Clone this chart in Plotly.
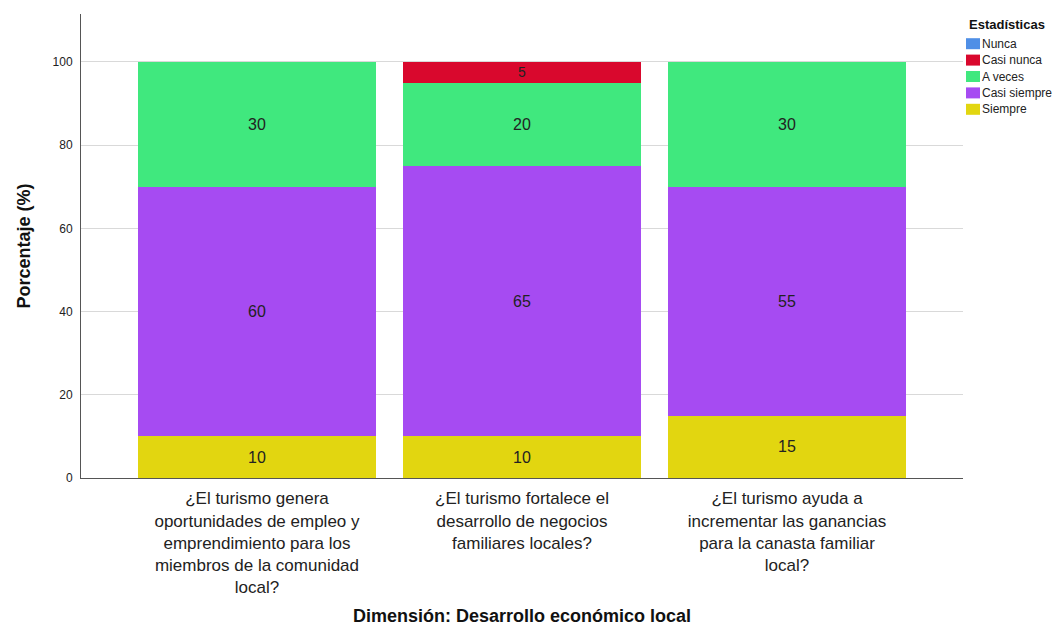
import plotly.graph_objects as go

categories = [
    "¿El turismo genera<br>oportunidades de empleo y<br>emprendimiento para los<br>miembros de la comunidad<br>local?",
    "¿El turismo fortalece el<br>desarrollo de negocios<br>familiares locales?",
    "¿El turismo ayuda a<br>incrementar las ganancias<br>para la canasta familiar<br>local?",
]
series_names = ["Siempre", "Casi siempre", "A veces", "Casi nunca", "Nunca"]
siempre = [10, 10, 15]
casi_siempre = [60, 65, 55]
a_veces = [30, 20, 30]
casi_nunca = [0, 5, 0]
nunca = [0, 0, 0]
series_values = [siempre, casi_siempre, a_veces, casi_nunca, nunca]
colors = ["#e2d610", "#a64bf2", "#40e87e", "#d9082d", "#4f8fe6"]
y_ticks = [0, 20, 40, 60, 80, 100]

W, H = 1053, 618
L, R, T, B = 73, 98, 6, 148
PW, PH = W - L - R, H - T - B


def px_x(fx):
    return (fx - L) / PW


def px_y(fy):
    return (H - B - fy) / PH


fig = go.Figure()
for name, vals, col in zip(series_names, series_values, colors):
    fig.add_trace(go.Bar(
        x=[0, 1, 2], y=vals, name=name, marker=dict(color=col, line=dict(width=0)),
        text=[str(v) if v else "" for v in vals], textposition="inside",
        insidetextanchor="middle", textangle=0,
        textfont=dict(family="Liberation Sans, Arial", size=16, color="#222222"),
        width=0.898, showlegend=False,
    ))

# custom legend (top right)
fig.add_annotation(x=px_x(959), y=px_y(16.5), xref="paper", yref="paper",
                   text="<b>Estadísticas</b>", showarrow=False, xanchor="left",
                   yanchor="middle", font=dict(size=13, color="#111111"))
for i, (name, col) in enumerate(zip(series_names[::-1], colors[::-1])):
    cy = 35.7 + 16.4 * i
    fig.add_shape(type="rect", xref="paper", yref="paper",
                  x0=px_x(958), x1=px_x(972), y0=px_y(cy + 5.5), y1=px_y(cy - 5.5),
                  fillcolor=col, line=dict(width=0))
    fig.add_annotation(x=px_x(972), y=px_y(cy), xref="paper", yref="paper",
                       text=name, showarrow=False, xanchor="left", yanchor="middle",
                       font=dict(size=12, color="#222222"))

# x axis title
fig.add_annotation(x=0.5, y=px_y(608), xref="paper", yref="paper",
                   text="<b>Dimensión: Desarrollo económico local</b>", showarrow=False,
                   xanchor="center", yanchor="middle", font=dict(size=18, color="#111111"))

fig.update_layout(
    barmode="stack",
    width=W, height=H,
    margin=dict(l=L, r=R, t=T, b=B, autoexpand=False),
    plot_bgcolor="white", paper_bgcolor="white",
    font=dict(family="Liberation Sans, Arial", color="#222222"),
    showlegend=False,
    xaxis=dict(
        tickmode="array", tickvals=[0, 1, 2], ticktext=categories,
        range=[-0.664, 2.664], showgrid=False, showline=True,
        linecolor="#555555", linewidth=1, ticks="", ticklabelstandoff=5,
        tickfont=dict(size=17, color="#222222"),
    ),
    yaxis=dict(
        range=[0, 111.5], tickvals=y_ticks, showgrid=True, gridcolor="#d9d9d9",
        showline=True, linecolor="#555555", linewidth=1, ticks="",
        tickfont=dict(size=12, color="#222222"), ticklabelstandoff=5, zeroline=False,
        title=dict(text="<b>Porcentaje (%)</b>", font=dict(size=18, color="#111111"),
                   standoff=17),
    ),
)

fig.write_html("out.html")
